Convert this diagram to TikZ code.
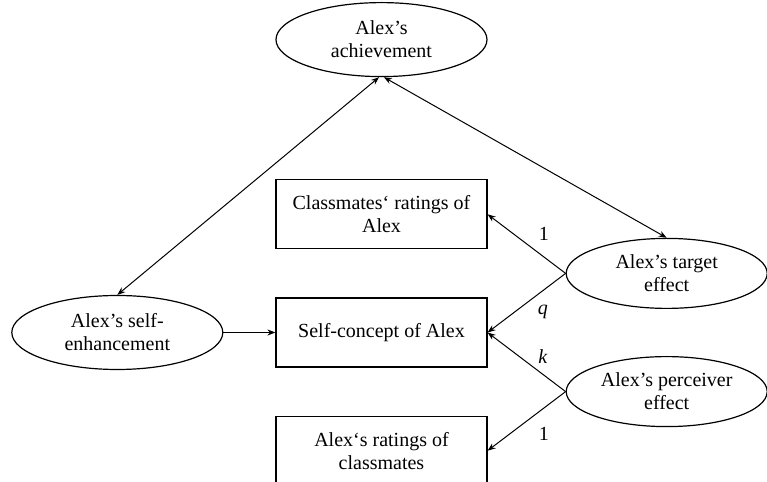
\documentclass[tikz,border=0pt]{standalone}
\usepackage{fontspec}
\setmainfont{Liberation Serif}
\usetikzlibrary{positioning, arrows.meta, shapes.geometric, calc}

\begin{document}
\begin{tikzpicture}[
        font=\fontsize{10}{11.5}\selectfont,
        node distance=24pt and 26pt,
        obs/.style={draw, rectangle, line width=0.6pt, minimum width=105.5pt, minimum height=34.5pt, inner sep=0pt, align=center},
        latent/.style={draw, ellipse, line width=0.6pt, minimum width=105.5pt, minimum height=37pt, inner sep=0pt, align=center},
        effect/.style={latent, minimum width=100.5pt, minimum height=35pt},
        path/.style={-{Stealth[length=4pt, width=3pt]}, line width=0.5pt},
        cov/.style={{Stealth[length=4pt, width=3pt]}-{Stealth[length=4pt, width=3pt]}, line width=0.5pt},
        coef/.style={inner sep=0pt}
    ]
    \useasboundingbox (0,0) rectangle (383.5pt,241pt);

    \node[obs] (Self) at (190.75pt,74.75pt) {Self-concept of Alex};
    \node[obs, above=of Self] (Peers) {Classmates‘ ratings of\\Alex};
    \node[obs, below=of Self] (Ratings) {Alex‘s ratings of\\classmates};
    \node[latent, above=51pt of Peers] (Achieve) {Alex’s\\achievement};
    \node[latent, left=of Self] (Enhance) {Alex’s self-\\enhancement};

    \coordinate (TargetRef) at ($(Peers.east)!0.5!(Self.east)$);
    \coordinate (PerceiverRef) at ($(Self.east)!0.5!(Ratings.east)$);
    \node[effect, right=39pt of TargetRef] (Target) {Alex’s target\\effect};
    \node[effect, right=39pt of PerceiverRef] (Perceiver) {Alex’s perceiver\\effect};

    \draw[cov] ([xshift=-1.2pt]Achieve.south) -- (Enhance.north);
    \draw[cov] ([xshift=1.2pt]Achieve.south) -- (Target.north);
    \draw[path] (Enhance) -- (Self);
    \draw[path] (Target.west) -- node[coef, pos=0.28, yshift=11.5pt] {1} (Peers.east);
    \draw[path] (Target.west) -- node[coef, pos=0.29, yshift=-10.5pt] {\textit{q}} (Self.east);
    \draw[path] (Perceiver.west) -- node[coef, pos=0.29, yshift=9pt] {\textit{k}} (Self.east);
    \draw[path] (Perceiver.west) -- node[coef, pos=0.28, yshift=-13pt] {1} (Ratings.east);

\end{tikzpicture}
\end{document}
